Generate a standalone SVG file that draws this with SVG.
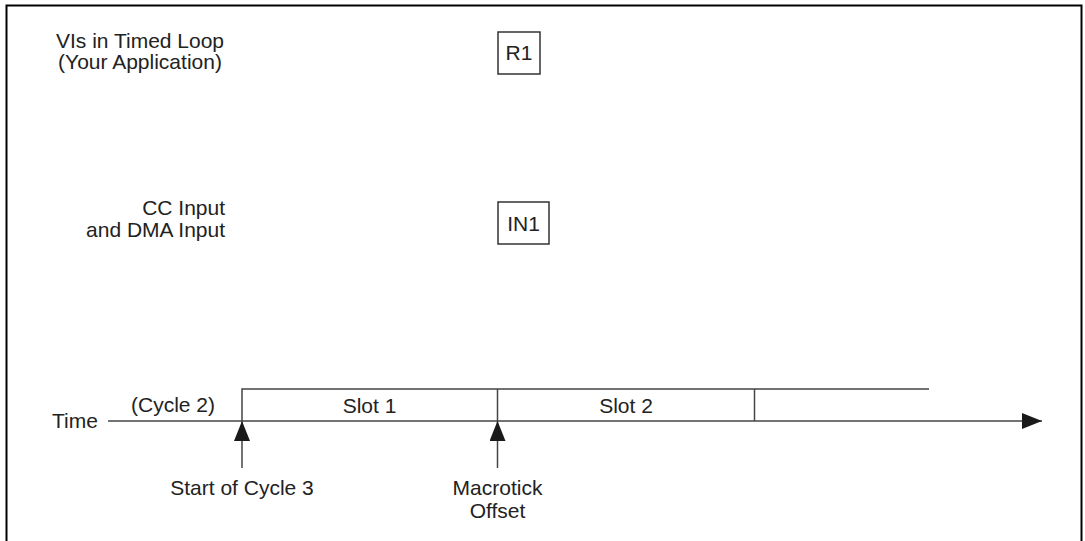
<svg xmlns="http://www.w3.org/2000/svg" width="1085" height="541" viewBox="0 0 1085 541">
  <defs>
    <style>
      text { font-family: "Liberation Sans", Arial, sans-serif; font-size: 21px; fill: #222; }
      .c { text-anchor: middle; }
      .r { text-anchor: end; }
      .ln { stroke: #444; stroke-width: 1.5; fill: none; }
      .box { stroke: #333; stroke-width: 1.5; fill: #fff; }
    </style>
    <marker id="ah" markerUnits="userSpaceOnUse" markerWidth="20" markerHeight="16" refX="20" refY="8" orient="auto">
      <path d="M0,0 L20,8 L0,16 Z" fill="#1a1a1a"/>
    </marker>
  </defs>
  <rect x="0" y="0" width="1085" height="541" fill="#fff"/>
  <rect id="frame" x="6.5" y="5.5" width="1075" height="545" fill="none" stroke="#000" stroke-width="2"/>

  <g id="label-vis">
    <text class="c" x="140" y="48">VIs in Timed Loop</text>
    <text class="c" x="140" y="69">(Your Application)</text>
  </g>
  <g id="label-cc">
    <text class="r" x="225" y="215">CC Input</text>
    <text class="r" x="225" y="237">and DMA Input</text>
  </g>
  <g id="node-r1">
    <rect class="box" x="498" y="32" width="42" height="42"/>
    <text class="c" x="519" y="60">R1</text>
  </g>
  <g id="node-in1">
    <rect class="box" x="498" y="202" width="51" height="42"/>
    <text class="c" x="523.5" y="231">IN1</text>
  </g>

  <g id="timeline">
    <text x="52" y="428">Time</text>
    <text class="c" x="173" y="412">(Cycle 2)</text>
    <text class="c" x="369.5" y="413">Slot 1</text>
    <text class="c" x="626" y="413">Slot 2</text>
  </g>

  <g id="connectors">
    <line class="ln" x1="108" y1="421" x2="1042" y2="421" marker-end="url(#ah)"/>
    <polyline class="ln" points="242,421 242,389 929,389"/>
    <line class="ln" x1="497.5" y1="389" x2="497.5" y2="421"/>
    <line class="ln" x1="754.5" y1="389" x2="754.5" y2="421"/>
    <line class="ln" x1="242" y1="468" x2="242" y2="421" marker-end="url(#ah)"/>
    <line class="ln" x1="497.5" y1="468" x2="497.5" y2="421" marker-end="url(#ah)"/>
  </g>

  <g id="label-start">
    <text class="c" x="242" y="495">Start of Cycle 3</text>
  </g>
  <g id="label-macrotick">
    <text class="c" x="497.5" y="495">Macrotick</text>
    <text class="c" x="497.5" y="518">Offset</text>
  </g>
</svg>
